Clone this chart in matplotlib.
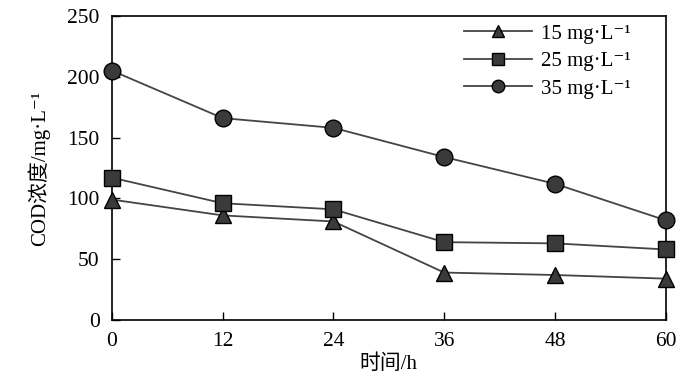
import matplotlib
matplotlib.use("Agg")
import matplotlib.pyplot as plt

hours = [0, 12, 24, 36, 48, 60]
cod_15 = [99, 86, 81, 39, 37, 34]
cod_25 = [117, 96, 91, 64, 63, 58]
cod_35 = [205, 166, 158, 134, 112, 82]
labels = ["15 mg·L⁻¹", "25 mg·L⁻¹", "35 mg·L⁻¹"]
xticks = [0, 12, 24, 36, 48, 60]
yticks = [0, 50, 100, 150, 200, 250]

plt.rcParams['font.family'] = ['Liberation Serif', 'Noto Sans CJK SC', 'DejaVu Serif']

fig = plt.figure(figsize=(7, 3.84), dpi=100)
ax = fig.add_axes([0.16, 0.1667, 0.791, 0.7917])

fc = '#3a3a3a'
lc = '#444444'
common = dict(color=lc, lw=1.3, markerfacecolor=fc, markeredgecolor='black', markeredgewidth=1.0, clip_on=False, zorder=3)
ax.plot(hours, cod_15, marker='^', markersize=11, label=labels[0], **common)
ax.plot(hours, cod_25, marker='s', markersize=11, label=labels[1], **common)
ax.plot(hours, cod_35, marker='o', markersize=12, label=labels[2], **common)

ax.set_xlim(0, 60)
ax.set_ylim(0, 250)
ax.set_xticks(xticks)
ax.set_yticks(yticks)
ax.tick_params(direction='in', length=6, width=1, labelsize=15.5, top=False, right=False)
ax.tick_params(axis='x', pad=9)
ax.tick_params(axis='y', pad=9)
for s in ax.spines.values():
    s.set_linewidth(1.2)

ax.set_xlabel("时间/h", fontsize=15, labelpad=2)
ax.set_ylabel("COD浓度/mg·L⁻¹", fontsize=15, labelpad=12)

leg = ax.legend(loc='upper right', bbox_to_anchor=(0.97, 1.035), frameon=False, fontsize=15,
                handlelength=3.3, markerscale=0.75, labelspacing=0.38, handletextpad=0.4)

fig.savefig("out.png", dpi=100)
